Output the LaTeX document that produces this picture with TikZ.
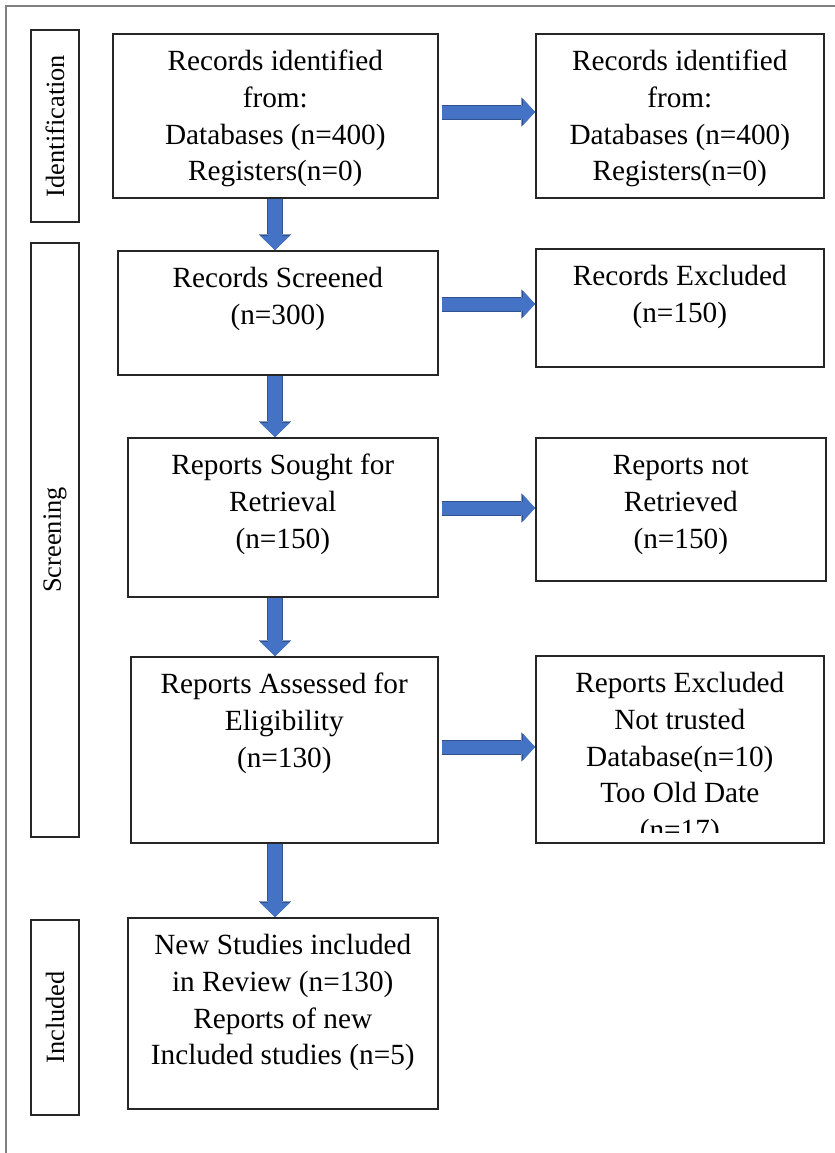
\documentclass[tikz,border=0pt]{standalone}
\usepackage{fontspec}
\setmainfont{Liberation Serif}
\usetikzlibrary{arrows.meta}
\definecolor{flowblue}{HTML}{4472C4}
\definecolor{flowedge}{HTML}{2F528F}
\definecolor{framegray}{HTML}{808080}
\newcommand{\boxtext}[3]{\parbox[t][#2][t]{#1}{\centering\vspace*{5.65pt}\strut#3}}

\begin{document}
\begin{tikzpicture}[
    x=0.5pt, y=-0.5pt,
    box/.style={draw=black!85,line width=0.8pt,inner sep=0pt,anchor=north west,
      font=\fontsize{14.64}{18.35}\selectfont},
    stage/.style={draw=black!85,line width=0.8pt,rotate=90,minimum height=24pt,
      inner sep=0pt,font=\fontsize{13.2}{15}\selectfont},
    down/.style={draw=flowblue,line width=7pt,
      -{Triangle[length=7pt,width=14.5pt,line width=0.1pt]},
      preaction={draw=flowedge,line width=8pt,
        -{Triangle[length=7.8pt,width=16pt,line width=0.1pt]}}},
    across/.style={draw=flowblue,line width=6.5pt,shorten <=1.5pt,
      -{Triangle[length=6pt,width=13pt,line width=0.1pt]},
      preaction={draw=flowedge,line width=7.5pt,shorten <=1.5pt,
        -{Triangle[length=6.8pt,width=14.5pt,line width=0.1pt]}}}]
  \useasboundingbox (0,0) rectangle (835,1153);
  \draw[framegray,line width=1pt] (835,6) -- (6,6) -- (6,1153);

  % stage labels
  \node[stage,minimum width=96pt] (idstage) at (55,126) {Identification};
  \node[stage,minimum width=297pt] (scrstage) at (55,540) {Screening};
  \node[stage,minimum width=97.5pt] (incstage) at (55,1017.5) {Included};

  % main column
  \node[box] (rec) at (112,33) {\boxtext{162.5pt}{82pt}{Records identified\\from:\\Databases (n=400)\\Registers(n=0)}};
  \node[box] (scr) at (117,250) {\boxtext{160pt}{62pt}{Records Screened\\(n=300)}};
  \node[box] (sought) at (127,437) {\boxtext{155pt}{79.5pt}{Reports Sought for\\Retrieval\\(n=150)}};
  \node[box] (assess) at (130,656) {\boxtext{153.5pt}{93pt}{Reports Assessed for\\Eligibility\\(n=130)}};
  \node[box] (incl) at (127,917) {\boxtext{155pt}{95.5pt}{New Studies included\\in Review (n=130)\\Reports of new\\Included studies (n=5)}};

  % side column
  \node[box] (dup) at (535,33) {\boxtext{144pt}{82pt}{Records identified\\from:\\Databases (n=400)\\Registers(n=0)}};
  \node[box] (exc) at (535,248) {\boxtext{144pt}{59pt}{Records Excluded\\(n=150)}};
  \node[box] (notret) at (535,437) {\boxtext{145pt}{71.5pt}{Reports not\\Retrieved\\(n=150)}};
  \begin{scope}
    \clip (535,655) rectangle (823,832);
    \node[box,draw=none] (excltext) at (535,655) {\boxtext{144pt}{93.5pt}{Reports Excluded\\Not trusted\\Database(n=10)\\Too Old Date\\(n=17)}};
  \end{scope}
  \node[box] (excl) at (535,655) {\boxtext{144pt}{93.5pt}{}};

  % flow arrows
  \coordinate (spine) at (275,0);
  \draw[down] (rec.south -| spine) -- (scr.north -| spine);
  \draw[down] (scr.south -| spine) -- (sought.north -| spine);
  \draw[down] (sought.south -| spine) -- (assess.north -| spine);
  \draw[down] (assess.south -| spine) -- (incl.north -| spine);
  \draw[across] (rec.east |- 0,112) -- (dup.west |- 0,112);
  \draw[across] (scr.east |- 0,304) -- (exc.west |- 0,304);
  \draw[across] (sought.east |- 0,508) -- (notret.west |- 0,508);
  \draw[across] (assess.east |- 0,747) -- (excl.west |- 0,747);
\end{tikzpicture}
\end{document}
